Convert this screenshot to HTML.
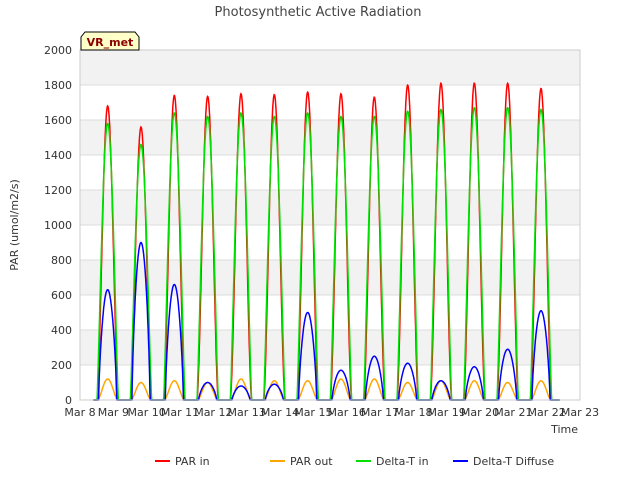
<!DOCTYPE html>
<html><head><meta charset="utf-8"><style>
body{margin:0;background:#fff;font-family:"Liberation Sans","DejaVu Sans",sans-serif}
</style></head><body>
<svg id="c" width="640" height="480" xmlns="http://www.w3.org/2000/svg" style="font-family:'DejaVu Sans','Liberation Sans',sans-serif">
<text x="318" y="16" text-anchor="middle" font-size="13" fill="#444">Photosynthetic Active Radiation</text>
<g id="plot"></g>
</svg>
<script>
const dayStarts=[8,9,10,11,12,13,14,15,16,17,18,19,20,21];
const parIn=[1680,1560,1740,1735,1750,1745,1760,1750,1730,1800,1810,1810,1810,1780];
const parOut=[120,100,110,100,120,110,110,120,120,100,110,110,100,110];
const deltaIn=[1580,1460,1640,1620,1640,1620,1640,1620,1620,1650,1660,1670,1670,1660];
const diffuse=[630,900,660,100,80,90,500,170,250,210,110,190,290,510];
const yTicks=[0,200,400,600,800,1000,1200,1400,1600,1800,2000];
const xTickLabels=["Mar 8","Mar 9","Mar 10","Mar 11","Mar 12","Mar 13","Mar 14","Mar 15","Mar 16","Mar 17","Mar 18","Mar 19","Mar 20","Mar 21","Mar 22","Mar 23"];
const NS="http://www.w3.org/2000/svg";
const L=80,R=580,T=50,B=400;
const X=d=>L+(d-8)/15*(R-L);
const Y=v=>B-v/2000*(B-T);
const g=document.getElementById('plot');
function mk(tag,attrs){const e=document.createElementNS(NS,tag);for(const k in attrs)e.setAttribute(k,attrs[k]);g.appendChild(e);return e;}
for(let i=0;i<yTicks.length-1;i++){
 const r=mk('rect',{x:L,y:Y(yTicks[i+1]),width:R-L,height:Y(yTicks[i])-Y(yTicks[i+1]),fill:(i%2==1)?'#f2f2f2':'#fff'});
 
 
}
yTicks.forEach(v=>{
 const l=mk('line',{x1:L,x2:R,y1:Y(v),y2:Y(v),stroke:'#dcdcdc','stroke-width':1});
 
 
 const t=mk('text',{x:L-8,y:Y(v)+4,'text-anchor':'end','font-size':11,fill:'#333'});
 t.textContent=v;
 
 
});
xTickLabels.forEach((s,i)=>{
 const t=mk('text',{x:X(8+i),y:B+16,'text-anchor':'middle','font-size':11,fill:'#333'});
 t.textContent=s;
 
 
});
function series(vals,shapeFn,hw){
 let pts=[];
 for(let t=8.4;t<=22.4;t+=1/96){
  let v=0;
  dayStarts.forEach((d,i)=>{const c=d+0.83;const u=(t-(c-hw))/(2*hw);if(u>0&&u<1)v=vals[i]*shapeFn(u);});
  pts.push(X(t).toFixed(1)+','+Y(v).toFixed(1));
 }
 return pts.join(' ');
}
const bell=u=>Math.pow(Math.sin(Math.PI*u),1.6);
function line(vals,fn,hw,col,name){
 const p=mk('polyline',{points:series(vals,fn,hw),fill:'none',stroke:col,'stroke-width':1.5});
 
 
}
line(parIn,bell,0.32,'#ff0000','par-in-line');
line(parOut,bell,0.3,'#ffa500','par-out-line');
line(deltaIn,u=>Math.pow(Math.sin(Math.PI*u),1.2),0.32,'#00e000','delta-t-in-line');
line(diffuse,u=>Math.pow(Math.sin(Math.PI*u),0.7),0.27,'#0000ff','delta-t-diffuse-line');
const f=mk('rect',{x:L,y:T,width:R-L,height:B-T,fill:'none',stroke:'#ccc'});


</script>
<svg style="position:absolute;left:0;top:0" width="640" height="480" xmlns="http://www.w3.org/2000/svg">
<text x="18" y="225" transform="rotate(-90 18 225)" text-anchor="middle" font-size="11" fill="#333" font-family="DejaVu Sans,sans-serif">PAR (umol/m2/s)</text>
<text x="578" y="433" text-anchor="end" font-size="11" fill="#333" font-family="DejaVu Sans,sans-serif">Time</text>
<path d="M81,50 L81,37 L85,32 L135,32 L139,37 L139,50 Z" fill="#ffffc8" stroke="#000"/>
<text x="110" y="46" text-anchor="middle" font-size="11" font-weight="bold" fill="#8b0000" font-family="DejaVu Sans,sans-serif">VR_met</text>
<g font-size="11" fill="#333" font-family="DejaVu Sans,sans-serif">
<line x1="155" x2="170" y1="461" y2="461" stroke="#ff0000" stroke-width="2"/>
<text x="175" y="465">PAR in</text>
<line x1="270" x2="285" y1="461" y2="461" stroke="#ffa500" stroke-width="2"/>
<text x="290" y="465">PAR out</text>
<line x1="356" x2="371" y1="461" y2="461" stroke="#00e000" stroke-width="2"/>
<text x="376" y="465">Delta-T in</text>
<line x1="453" x2="468" y1="461" y2="461" stroke="#0000ff" stroke-width="2"/>
<text x="473" y="465">Delta-T Diffuse</text>
</g>
</svg>
</body></html>
